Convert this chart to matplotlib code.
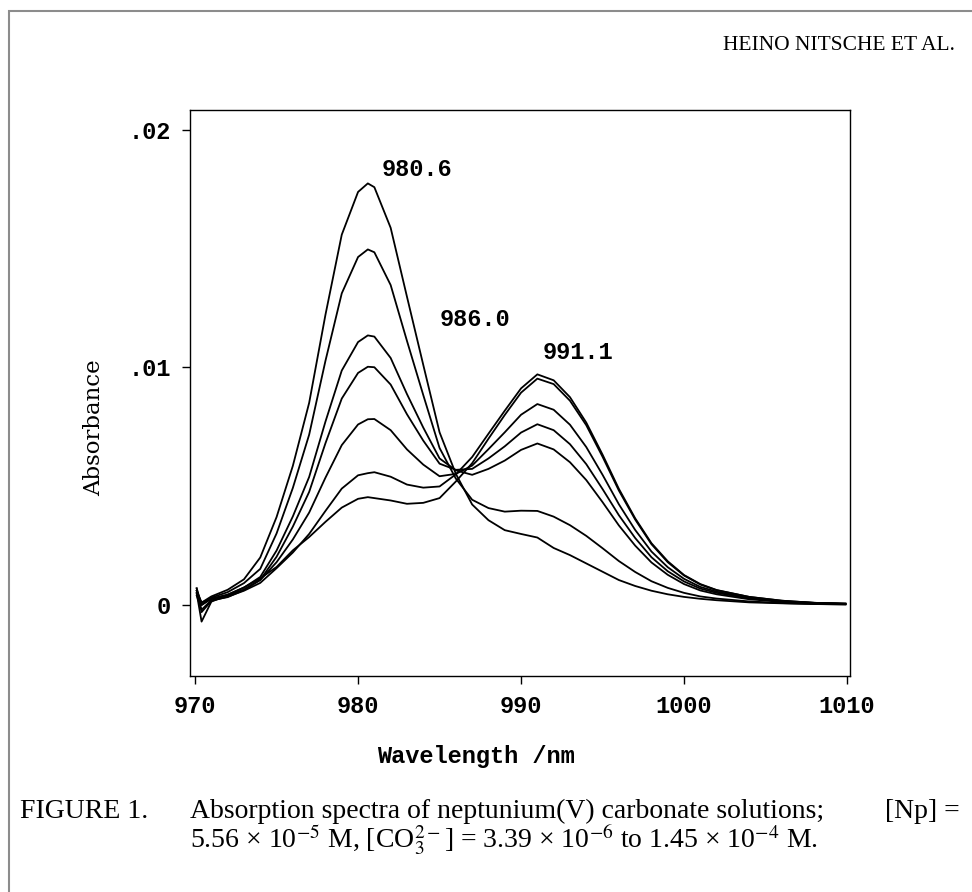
import matplotlib
matplotlib.use("Agg")
import matplotlib.pyplot as plt
from matplotlib.patches import Rectangle

plt.rcParams['mathtext.fontset'] = 'stix'

# wavelength grid (nm) and absorbance in units of 1e-4
wavelength = [970.1, 970.4, 971, 972, 973, 974, 975, 976, 977, 978, 979, 980, 980.6,
              981, 982, 983, 984, 985, 986, 987, 988, 989, 990, 991, 992, 993, 994,
              995, 996, 997, 998, 999, 1000, 1001, 1002, 1004, 1006, 1008, 1009.9]

abs_1 = [6, 1, 3.6, 6.4, 10.8, 20, 37, 58.6, 85.1, 122.2, 155.9, 173.9, 177.5,
         175.9, 158.8, 129.8, 101.1, 72.7, 55.2, 42.3, 35.7, 31.5, 29.9, 28.4, 24, 21, 17.5,
         14, 10.5, 8, 6, 4.5, 3.4, 2.6, 2, 1.1, 0.7, 0.4, 0.3]
abs_2 = [7, 0, 3.1, 5.4, 9.2, 15.2, 30.1, 49.3, 71.7, 102.8, 131.2, 146.5, 149.7,
         148.5, 134.7, 111.2, 88.4, 66.1, 53.2, 44.3, 40.8, 39.3, 39.7, 39.6, 37.2, 33.6, 29.1,
         23.9, 18.5, 13.9, 10.0, 7.2, 5.1, 3.6, 2.7, 1.5, 0.8, 0.4, 0.2]
abs_3 = [5, 1, 2.7, 4.4, 7.3, 11.8, 22.9, 37.3, 53.9, 77.2, 98.7, 110.7, 113.5,
         113, 104, 88.8, 74.7, 61.7, 56.7, 54.8, 57.3, 60.8, 65.3, 68, 65.5, 60.1, 52.6,
         43.3, 33.5, 25, 17.9, 12.7, 8.8, 6.1, 4.5, 2.4, 1.3, 0.7, 0.4]
abs_4 = [6, 0, 2.5, 4, 6.5, 10.6, 20.3, 33, 47.6, 68.1, 86.9, 97.7, 100.3,
         100.1, 92.8, 80.3, 69.2, 59.5, 56.9, 57.3, 61.7, 66.8, 72.6, 76.1, 73.6, 67.7, 59.3,
         48.8, 37.8, 28.2, 20.1, 14.2, 9.9, 6.9, 5.1, 2.8, 1.5, 0.8, 0.4]
abs_5 = [4, -2, 2, 3.3, 6.3, 10.5, 18, 27.6, 38.9, 53.6, 67.3, 76, 78.2,
         78.3, 73.6, 65.5, 59.1, 54.2, 55.2, 58.7, 65.6, 72.7, 80.1, 84.6, 82.2, 75.9, 66.5,
         54.8, 42.4, 31.6, 22.5, 15.9, 11, 7.6, 5.6, 3, 1.5, 0.9, 0.5]
abs_6 = [7, -3, 1.7, 3.5, 6, 9.3, 15.5, 22.1, 29.9, 39.6, 49, 54.6, 55.5,
         55.9, 54, 50.7, 49.4, 49.9, 55, 62.3, 72.1, 81.8, 91.2, 97.1, 94.6, 87.5, 76.8,
         63.3, 48.9, 36.5, 26, 18.4, 12.6, 8.8, 6.3, 3.4, 1.8, 0.9, 0.6]
abs_7 = [5, -7, 1.4, 4.2, 7.4, 11.2, 16, 23, 28.6, 35, 41, 44.7, 45.4,
         45, 44, 42.6, 43, 45, 52, 59.7, 70, 80, 89.4, 95.3, 93, 86, 75.7,
         62.4, 48.2, 36, 25.6, 18, 12.4, 8.6, 6.2, 3.4, 1.8, 0.9, 0.6]
spectra = [abs_1, abs_2, abs_3, abs_4, abs_5, abs_6, abs_7]

x_ticks = [970, 980, 990, 1000, 1010]
y_ticks = [0, 100, 200]
y_tick_labels = ['0', '.01', '.02']

peak_labels = ['980.6', '986.0', '991.1']
peak_label_x = [981.47, 985.03, 991.35]
peak_label_y = [183.2, 120.0, 106.1]

W, H = 972, 892
fig = plt.figure(figsize=(W / 100, H / 100), dpi=100)
fig.patch.set_facecolor('white')

# page border of the scan
fig.add_artist(Rectangle((9 / W, -0.1), 1.2, 1 - 11 / H + 0.1, transform=fig.transFigure,
                         fill=False, ec='#8c8c8c', lw=1.5))

ax = fig.add_axes([190 / W, 1 - 676 / H, 660 / W, 566 / H])
for s in spectra:
    ax.plot(wavelength, s, color='black', lw=1.3)

ax.set_xlim(969.69, 1010.18)
ax.set_ylim(-29.9, 208.4)
ax.set_xticks(x_ticks)
ax.set_yticks(y_ticks)
ax.set_yticklabels(y_tick_labels)
mono = dict(family='Liberation Mono', weight='bold', size=17)
for lab in ax.get_xticklabels() + ax.get_yticklabels():
    lab.set_fontfamily('Liberation Mono')
    lab.set_fontweight('bold')
    lab.set_fontsize(17)
ax.tick_params(direction='out', length=6, width=1, pad=8)
for sp in ax.spines.values():
    sp.set_linewidth(1.0)

for txt, xx, yy in zip(peak_labels, peak_label_x, peak_label_y):
    ax.text(xx, yy, txt, ha='left', va='center', **mono)

fig.text(476 / W, 1 - 757 / H, 'Wavelength /nm', ha='center', va='center', **mono)
fig.text(94 / W, 1 - 428 / H, 'Absorbance', rotation=90, ha='center', va='center',
         family='DejaVu Serif', size=16.5)

serif = dict(family='Liberation Serif', size=20)
fig.text(955 / W, 1 - 46 / H, 'HEINO NITSCHE ET AL.', ha='right', va='center',
         family='Liberation Serif', size=15.5)
fig.text(20 / W, 1 - 811 / H, 'FIGURE 1.', ha='left', va='center', **serif)
fig.text(190 / W, 1 - 811 / H, 'Absorption spectra of neptunium(V) carbonate solutions;',
         ha='left', va='center', **serif)
fig.text(960 / W, 1 - 811 / H, '[Np] =', ha='right', va='center', **serif)
fig.text(190 / W, 1 - 840 / H,
         r'5.56 × 10$^{-5}$ M, [CO$_3^{2-}$] = 3.39 × 10$^{-6}$ to 1.45 × 10$^{-4}$ M.',
         ha='left', va='center', **serif)

fig.savefig('out.png', dpi=100)
